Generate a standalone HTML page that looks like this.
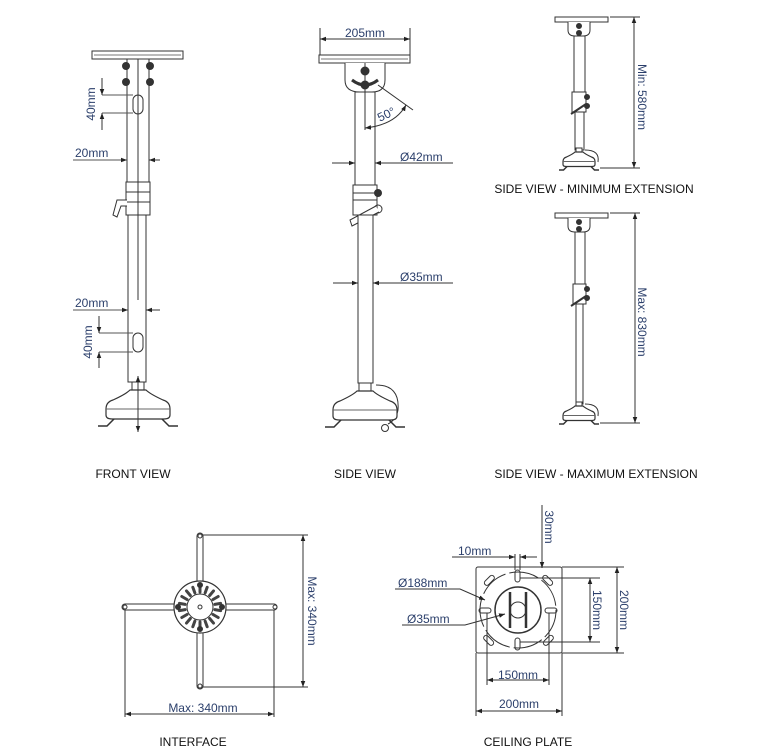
<!DOCTYPE html>
<html><head><meta charset="utf-8"><style>
html,body{margin:0;padding:0;background:#fff;}
svg{display:block;font-family:"Liberation Sans",sans-serif;}
.d{fill:#2b3f6b;font-size:12px;}
.l{fill:#111;font-size:12px;}
#base *{vector-effect:non-scaling-stroke;}
</style></head><body>
<svg width="779" height="748" viewBox="0 0 779 748" xmlns="http://www.w3.org/2000/svg">
<defs>
<marker id="a" viewBox="0 0 8 6" refX="8" refY="3" markerWidth="6" markerHeight="5" orient="auto-start-reverse"><path d="M0 0L8 3L0 6Z" fill="#222"/></marker>
<g id="base">
<rect x="-6" y="0" width="12" height="8" fill="#fff" stroke="#333"/>
<path d="M-8 8 Q-12 12 -25 18 Q-32 20 -32 27 L-32 33 Q-32 37 -26 37 L26 37 Q32 37 32 33 L32 27 Q32 20 25 18 Q12 12 8 8 Z" fill="#fff" stroke="#333" stroke-width="1.2"/>
<path d="M-32 27 L32 27" stroke="#666" fill="none"/>
<path d="M-24 37 L-31 44 L-40 44 M24 37 L31 44 L40 44" stroke="#333" stroke-width="1.5" fill="none"/>
</g>
</defs>
<g stroke="#333" fill="none" stroke-width="1">
<!-- FRONT VIEW -->
<rect x="92" y="51" width="91" height="8" fill="#fff"/>
<line x1="94" y1="55" x2="181" y2="55" stroke="#777"/>
<rect x="127" y="59" width="22" height="123" fill="#fff"/>
<line x1="138" y1="59" x2="138" y2="182"/>
<circle cx="126" cy="66" r="3.5" fill="#333"/><circle cx="150" cy="66" r="3.5" fill="#333"/>
<circle cx="126" cy="82" r="3.5" fill="#333"/><circle cx="150" cy="82" r="3.5" fill="#333"/>
<rect x="133" y="95" width="10" height="19" rx="5"/>
<rect x="126" y="182" width="24" height="33" fill="#fff"/>
<line x1="126" y1="192" x2="150" y2="192"/><line x1="126" y1="202" x2="150" y2="202"/>
<line x1="138" y1="182" x2="138" y2="215"/>
<path d="M127 200 L117 200 L113 215 L117 217 L121 206 L127 206" fill="#fff"/>
<rect x="128" y="215" width="18" height="167" fill="#fff"/>
<line x1="138" y1="215" x2="138" y2="300"/>
<rect x="133" y="333" width="10" height="19" rx="5"/>
<use href="#base" transform="translate(138,382)"/>
<line x1="138" y1="376" x2="138" y2="432" marker-start="url(#a)" marker-end="url(#a)"/>
<line x1="102" y1="95" x2="133" y2="95" stroke="#555"/><line x1="102" y1="113" x2="133" y2="113" stroke="#555"/>
<line x1="102" y1="78" x2="102" y2="95" marker-end="url(#a)"/><line x1="102" y1="130" x2="102" y2="113" marker-end="url(#a)"/>
<line x1="73" y1="160" x2="127" y2="160" stroke="#555" marker-end="url(#a)"/><line x1="160" y1="160" x2="149" y2="160" marker-end="url(#a)"/>
<line x1="73" y1="310" x2="128" y2="310" stroke="#555" marker-end="url(#a)"/><line x1="160" y1="310" x2="146" y2="310" marker-end="url(#a)"/>
<line x1="99" y1="333" x2="133" y2="333" stroke="#555"/><line x1="99" y1="352" x2="133" y2="352" stroke="#555"/>
<line x1="99" y1="316" x2="99" y2="333" marker-end="url(#a)"/><line x1="99" y1="368" x2="99" y2="352" marker-end="url(#a)"/>

<!-- SIDE VIEW -->
<line x1="320" y1="28" x2="320" y2="55"/><line x1="410" y1="28" x2="410" y2="55"/>
<line x1="320" y1="39" x2="410" y2="39" marker-start="url(#a)" marker-end="url(#a)"/>
<rect x="319" y="55" width="91" height="8" fill="#fff"/>
<line x1="321" y1="59" x2="408" y2="59" stroke="#777"/>
<path d="M345 63 L345 80 Q345 92 360 92 L372 92 Q385 92 385 80 L385 63" fill="#fff"/>
<path d="M352 80 Q365 90 378 80" stroke-width="3"/>
<circle cx="365" cy="71" r="4" fill="#333"/><circle cx="365" cy="85" r="4" fill="#333"/>
<rect x="355" y="92" width="20" height="93" fill="#fff"/>
<line x1="365" y1="63" x2="365" y2="130"/>
<line x1="378" y1="85" x2="413" y2="110"/>
<path d="M365 128 Q395 125 406 105" marker-start="url(#a)" marker-end="url(#a)"/>
<line x1="332" y1="163" x2="355" y2="163" marker-end="url(#a)"/><line x1="453" y1="163" x2="375" y2="163" marker-end="url(#a)"/>
<rect x="353" y="185" width="24" height="30" fill="#fff"/>
<line x1="353" y1="193" x2="377" y2="193"/><line x1="353" y1="200" x2="377" y2="200"/>
<circle cx="378" cy="193" r="3.5" fill="#333"/><circle cx="378" cy="209" r="4"/>
<path d="M376 206 L350 220 L352 226 L379 212" fill="#fff"/>
<rect x="358" y="215" width="15" height="168" fill="#fff"/>
<line x1="333" y1="283" x2="358" y2="283" marker-end="url(#a)"/><line x1="453" y1="283" x2="373" y2="283" marker-end="url(#a)"/>
<path d="M376 385 Q400 385 398 410 Q396 420 388 424"/>
<use href="#base" transform="translate(365,383)"/>
<circle cx="385" cy="428" r="3.5"/>

<!-- MIN EXTENSION -->
<rect x="555" y="17" width="53" height="5" fill="#fff"/>
<path d="M568 22 L568 30 Q568 36 575 36 L583 36 Q590 36 590 30 L590 22" fill="#fff"/>
<circle cx="579" cy="26" r="2.5" fill="#333"/><circle cx="579" cy="33" r="2.5" fill="#333"/>
<rect x="574" y="36" width="11" height="56" fill="#fff"/>
<rect x="572" y="92" width="14" height="20" fill="#fff"/>
<circle cx="587" cy="97" r="2.5" fill="#333"/><circle cx="587" cy="106" r="2.5" fill="#333"/>
<line x1="586" y1="104" x2="571" y2="114" stroke-width="2"/>
<rect x="575" y="112" width="9" height="38" fill="#fff"/>
<path d="M585 150 Q600 150 598 162"/>
<use href="#base" transform="translate(579,148) scale(0.5)"/>
<line x1="610" y1="17" x2="640" y2="17"/><line x1="600" y1="168" x2="640" y2="168"/>
<line x1="634" y1="17" x2="634" y2="168" marker-start="url(#a)" marker-end="url(#a)"/>

<!-- MAX EXTENSION -->
<rect x="555" y="213" width="53" height="5" fill="#fff"/>
<path d="M568 218 L568 226 Q568 232 575 232 L583 232 Q590 232 590 226 L590 218" fill="#fff"/>
<circle cx="579" cy="222" r="2.5" fill="#333"/><circle cx="579" cy="229" r="2.5" fill="#333"/>
<rect x="575" y="232" width="10" height="52" fill="#fff"/>
<rect x="573" y="284" width="13" height="20" fill="#fff"/>
<circle cx="587" cy="289" r="2.5" fill="#333"/><circle cx="587" cy="298" r="2.5" fill="#333"/>
<line x1="586" y1="296" x2="571" y2="306" stroke-width="2"/>
<rect x="576" y="304" width="7" height="100" fill="#fff"/>
<path d="M585 404 Q600 404 598 416"/>
<use href="#base" transform="translate(579,402) scale(0.5)"/>
<line x1="610" y1="213" x2="640" y2="213"/><line x1="600" y1="423" x2="640" y2="423"/>
<line x1="635" y1="213" x2="635" y2="423" marker-start="url(#a)" marker-end="url(#a)"/>

<!-- INTERFACE -->
<rect x="197" y="533" width="6" height="156" rx="3" fill="#fff"/>
<rect x="122" y="604" width="155" height="6" rx="3" fill="#fff"/>
<circle cx="200" cy="536" r="2"/><circle cx="200" cy="686" r="2"/><circle cx="125" cy="607" r="2"/><circle cx="275" cy="607" r="2"/>
<circle cx="200" cy="607" r="26" fill="#fff" stroke-width="1.2"/>
<circle cx="200" cy="607" r="13"/>
<g stroke="#444" stroke-width="3" stroke-linecap="round">
<line x1="200" y1="592" x2="200" y2="586" transform="rotate(0 200 607)"/>
<line x1="200" y1="592" x2="200" y2="586" transform="rotate(20 200 607)"/>
<line x1="200" y1="592" x2="200" y2="586" transform="rotate(40 200 607)"/>
<line x1="200" y1="592" x2="200" y2="586" transform="rotate(60 200 607)"/>
<line x1="200" y1="592" x2="200" y2="586" transform="rotate(80 200 607)"/>
<line x1="200" y1="592" x2="200" y2="586" transform="rotate(100 200 607)"/>
<line x1="200" y1="592" x2="200" y2="586" transform="rotate(120 200 607)"/>
<line x1="200" y1="592" x2="200" y2="586" transform="rotate(140 200 607)"/>
<line x1="200" y1="592" x2="200" y2="586" transform="rotate(160 200 607)"/>
<line x1="200" y1="592" x2="200" y2="586" transform="rotate(180 200 607)"/>
<line x1="200" y1="592" x2="200" y2="586" transform="rotate(200 200 607)"/>
<line x1="200" y1="592" x2="200" y2="586" transform="rotate(220 200 607)"/>
<line x1="200" y1="592" x2="200" y2="586" transform="rotate(240 200 607)"/>
<line x1="200" y1="592" x2="200" y2="586" transform="rotate(260 200 607)"/>
<line x1="200" y1="592" x2="200" y2="586" transform="rotate(280 200 607)"/>
<line x1="200" y1="592" x2="200" y2="586" transform="rotate(300 200 607)"/>
<line x1="200" y1="592" x2="200" y2="586" transform="rotate(320 200 607)"/>
<line x1="200" y1="592" x2="200" y2="586" transform="rotate(340 200 607)"/>
</g>
<circle cx="200" cy="607" r="2"/>
<circle cx="200" cy="585" r="2.5" fill="#333"/><circle cx="200" cy="629" r="2.5" fill="#333"/>
<circle cx="178" cy="607" r="2.5" fill="#333"/><circle cx="222" cy="607" r="2.5" fill="#333"/>
<line x1="203" y1="535" x2="308" y2="535"/><line x1="203" y1="687" x2="308" y2="687"/>
<line x1="303" y1="535" x2="303" y2="687" marker-start="url(#a)" marker-end="url(#a)"/>
<line x1="125" y1="610" x2="125" y2="717"/><line x1="274" y1="610" x2="274" y2="717"/>
<line x1="125" y1="714" x2="274" y2="714" marker-start="url(#a)" marker-end="url(#a)"/>

<!-- CEILING PLATE -->
<rect x="476" y="567" width="86" height="86" rx="2" fill="#fff"/>
<circle cx="518" cy="610" r="38" stroke-dasharray="30 4"/>
<circle cx="518" cy="610" r="23" stroke-width="1.5"/>
<circle cx="518" cy="610" r="8"/>
<line x1="510" y1="592" x2="510" y2="628" stroke-width="2.5"/><line x1="526" y1="592" x2="526" y2="628" stroke-width="2.5"/>
<rect x="515" y="570" width="5" height="12" rx="2.5"/><rect x="515" y="638" width="5" height="12" rx="2.5"/>
<rect x="479" y="608" width="12" height="5" rx="2.5"/><rect x="545" y="608" width="12" height="5" rx="2.5"/>
<rect x="483" y="578" width="12" height="5" rx="2.5" transform="rotate(-45 489 580)"/>
<rect x="542" y="578" width="12" height="5" rx="2.5" transform="rotate(45 548 580)"/>
<rect x="483" y="638" width="12" height="5" rx="2.5" transform="rotate(45 489 640)"/>
<rect x="542" y="638" width="12" height="5" rx="2.5" transform="rotate(-45 548 640)"/>
<line x1="515" y1="554" x2="515" y2="570"/><line x1="520" y1="554" x2="520" y2="570"/>
<line x1="452" y1="557" x2="515" y2="557" marker-end="url(#a)"/><line x1="537" y1="557" x2="520" y2="557" marker-end="url(#a)"/>
<line x1="542" y1="505" x2="542" y2="568" marker-end="url(#a)"/>
<line x1="520" y1="578" x2="600" y2="578"/><line x1="520" y1="642" x2="600" y2="642"/>
<line x1="590" y1="578" x2="590" y2="642" marker-start="url(#a)" marker-end="url(#a)"/>
<line x1="562" y1="567" x2="624" y2="567"/><line x1="562" y1="653" x2="624" y2="653"/>
<line x1="617" y1="567" x2="617" y2="653" marker-start="url(#a)" marker-end="url(#a)"/>
<line x1="487" y1="613" x2="487" y2="685"/><line x1="549" y1="613" x2="549" y2="685"/>
<line x1="487" y1="680" x2="549" y2="680" marker-start="url(#a)" marker-end="url(#a)"/>
<line x1="476" y1="653" x2="476" y2="716"/><line x1="562" y1="653" x2="562" y2="716"/>
<line x1="476" y1="711" x2="562" y2="711" marker-start="url(#a)" marker-end="url(#a)"/>
<path d="M395 589 L460 589 L485 600" marker-end="url(#a)"/>
<path d="M402 625 L465 625 L505 614" marker-end="url(#a)"/>
</g>

<text class="d" transform="translate(95,104) rotate(-90)" text-anchor="middle">40mm</text>
<text class="d" x="75" y="157">20mm</text>
<text class="d" x="75" y="307">20mm</text>
<text class="d" transform="translate(92,342) rotate(-90)" text-anchor="middle">40mm</text>
<text class="d" x="365" y="37" text-anchor="middle">205mm</text>
<text class="d" transform="translate(388,118) rotate(-25)" text-anchor="middle">50°</text>
<text class="d" x="400" y="161">Ø42mm</text>
<text class="d" x="400" y="281">Ø35mm</text>
<text class="d" transform="translate(638,97) rotate(90)" text-anchor="middle">Min: 580mm</text>
<text class="d" transform="translate(638,322) rotate(90)" text-anchor="middle">Max: 830mm</text>
<text class="d" transform="translate(308,611) rotate(90)" text-anchor="middle">Max: 340mm</text>
<text class="d" x="203" y="712" text-anchor="middle">Max: 340mm</text>
<text class="d" transform="translate(545,527) rotate(90)" text-anchor="middle">30mm</text>
<text class="d" x="458" y="555">10mm</text>
<text class="d" x="398" y="587">Ø188mm</text>
<text class="d" x="407" y="623">Ø35mm</text>
<text class="d" transform="translate(593,610) rotate(90)" text-anchor="middle">150mm</text>
<text class="d" transform="translate(620,610) rotate(90)" text-anchor="middle">200mm</text>
<text class="d" x="518" y="679" text-anchor="middle">150mm</text>
<text class="d" x="519" y="708" text-anchor="middle">200mm</text>
<text class="l" x="133" y="478" text-anchor="middle">FRONT VIEW</text>
<text class="l" x="365" y="478" text-anchor="middle">SIDE VIEW</text>
<text class="l" x="594" y="193" text-anchor="middle">SIDE VIEW - MINIMUM EXTENSION</text>
<text class="l" x="596" y="478" text-anchor="middle">SIDE VIEW - MAXIMUM EXTENSION</text>
<text class="l" x="193" y="746" text-anchor="middle">INTERFACE</text>
<text class="l" x="528" y="746" text-anchor="middle">CEILING PLATE</text>
</svg>
</body></html>
